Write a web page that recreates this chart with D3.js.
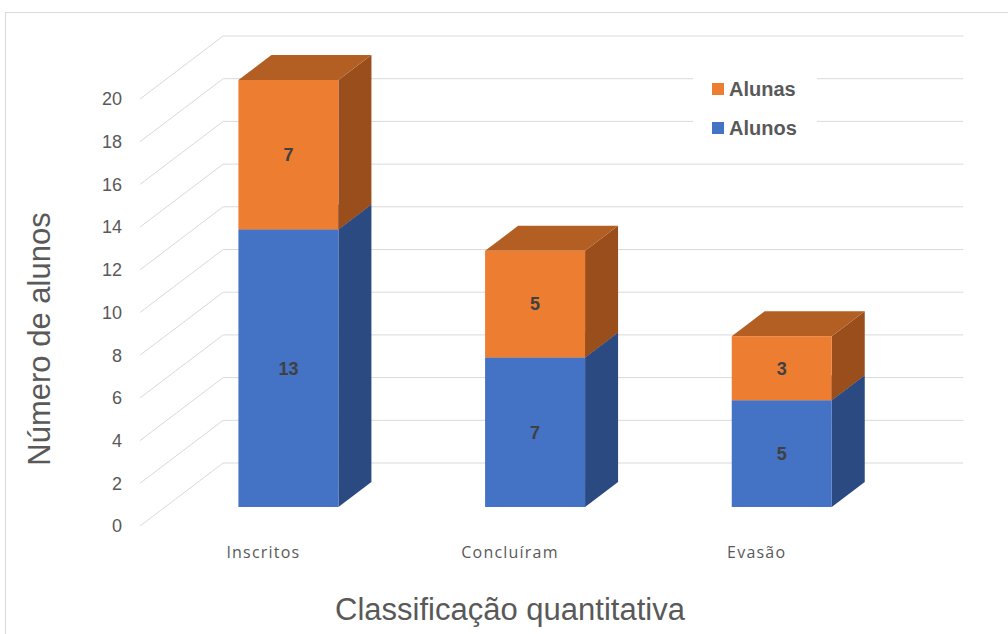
<!DOCTYPE html>
<html><head><meta charset="utf-8">
<script src="https://cdn.jsdelivr.net/npm/d3@7"></script>
<style>body{margin:0;background:#fff}svg{display:block}</style>
</head><body>
<script>
const categories = ["Inscritos", "Concluíram", "Evasão"];
const alunos = [13, 7, 5];
const alunas = [7, 5, 3];
const seriesNames = ["Alunas", "Alunos"];
const yTicks = [0, 2, 4, 6, 8, 10, 12, 14, 16, 18, 20];

const W = 1008, H = 634;
const svg = d3.select("body").append("svg").attr("width", W).attr("height", H);
svg.append("rect").attr("x", 5.5).attr("y", 12.5).attr("width", W).attr("height", H).attr("fill", "#fff").attr("stroke", "#d9d9d9");

const y = d3.scaleLinear().domain([0, 20]).range([526, 99]);
const x = d3.scalePoint().domain(categories).range([140, 880]).padding(0.5);
const K = 1.32; // oblique ratio
const P = (px, py, d) => [px + d * K, py - d];
const wallD = 63, barFront = 19, barBack = 44, barW = 100;

const grid = svg.append("g").attr("stroke", "#d9d9d9").attr("fill", "none").attr("stroke-width", 1);
yTicks.forEach(t => {
  const a = P(140, y(t), 0), b = P(140, y(t), wallD), c = P(880, y(t), wallD);
  grid.append("path").attr("d", d3.line()([a, b, c]));
});

svg.append("g").selectAll("text").data(yTicks).join("text")
  .attr("x", 122).attr("y", d => y(d)).attr("dy", "0.35em").attr("text-anchor", "end")
  .attr("font-family", "Liberation Sans, Arial, sans-serif").attr("font-size", 18).attr("fill", "#595959")
  .text(d => d);

const colors = {
  Alunos: {front: "#4472C4", side: "#2B4A82", top: "#365E9F"},
  Alunas: {front: "#ED7D31", side: "#9A4E1C", top: "#B35F24"}
};
const stacks = categories.map((c, i) => [
  {cat: c, name: "Alunos", v0: 0, v1: alunos[i], v: alunos[i]},
  {cat: c, name: "Alunas", v0: alunos[i], v1: alunos[i] + alunas[i], v: alunas[i]}
]);

const bars = svg.append("g");
stacks.forEach(segs => {
  segs.forEach(s => {
    const cx = x(s.cat) + barFront * K;
    const x0 = cx - barW / 2, x1 = cx + barW / 2;
    const yt = y(s.v1) - barFront, yb = y(s.v0) - barFront;
    const dd = barBack - barFront;
    const col = colors[s.name];
    bars.append("path").attr("fill", col.side)
      .attr("d", d3.line()([[x1, yt], P(x1, yt, dd), P(x1, yb, dd), [x1, yb]]) + "Z");
    bars.append("path").attr("fill", col.top)
      .attr("d", d3.line()([[x0, yt], P(x0, yt, dd), P(x1, yt, dd), [x1, yt]]) + "Z");
    bars.append("rect").attr("x", x0).attr("y", yt).attr("width", barW).attr("height", yb - yt).attr("fill", col.front);
    bars.append("text").attr("x", cx).attr("y", (yt + yb) / 2).attr("dy", "0.35em")
      .attr("text-anchor", "middle").attr("font-family", "Liberation Sans, Arial, sans-serif")
      .attr("font-weight", "bold").attr("font-size", 18).attr("fill", "#404040").text(s.v);
  });
});

svg.append("g").selectAll("text").data(categories).join("text")
  .attr("x", d => x(d)).attr("y", 552).attr("dy", "0.35em").attr("text-anchor", "middle")
  .attr("font-family", "Open Sans, sans-serif").attr("font-size", 16).attr("letter-spacing", 1.2)
  .attr("fill", "#595959")
  .text(d => d);

svg.append("text").attr("transform", "translate(39,339) rotate(-90)").attr("dy", "0.35em")
  .attr("text-anchor", "middle").attr("font-family", "Liberation Sans, Arial, sans-serif")
  .attr("font-size", 31).attr("fill", "#595959").text("Número de alunos");
svg.append("text").attr("x", 510).attr("y", 609).attr("dy", "0.35em")
  .attr("text-anchor", "middle").attr("font-family", "Liberation Sans, Arial, sans-serif")
  .attr("font-size", 31).attr("fill", "#595959").text("Classificação quantitativa");

const leg = svg.append("g");
leg.append("rect").attr("x", 693).attr("y", 77).attr("width", 124).attr("height", 71).attr("fill", "#fff");
seriesNames.forEach((n, i) => {
  const yy = 89 + i * 39;
  leg.append("rect").attr("x", 712).attr("y", yy - 6).attr("width", 12).attr("height", 12).attr("fill", colors[n].front);
  leg.append("text").attr("x", 729).attr("y", yy).attr("dy", "0.35em")
    .attr("font-family", "Liberation Sans, Arial, sans-serif").attr("font-weight", "bold")
    .attr("font-size", 20).attr("fill", "#595959").text(n);
});
</script>
</body></html>
